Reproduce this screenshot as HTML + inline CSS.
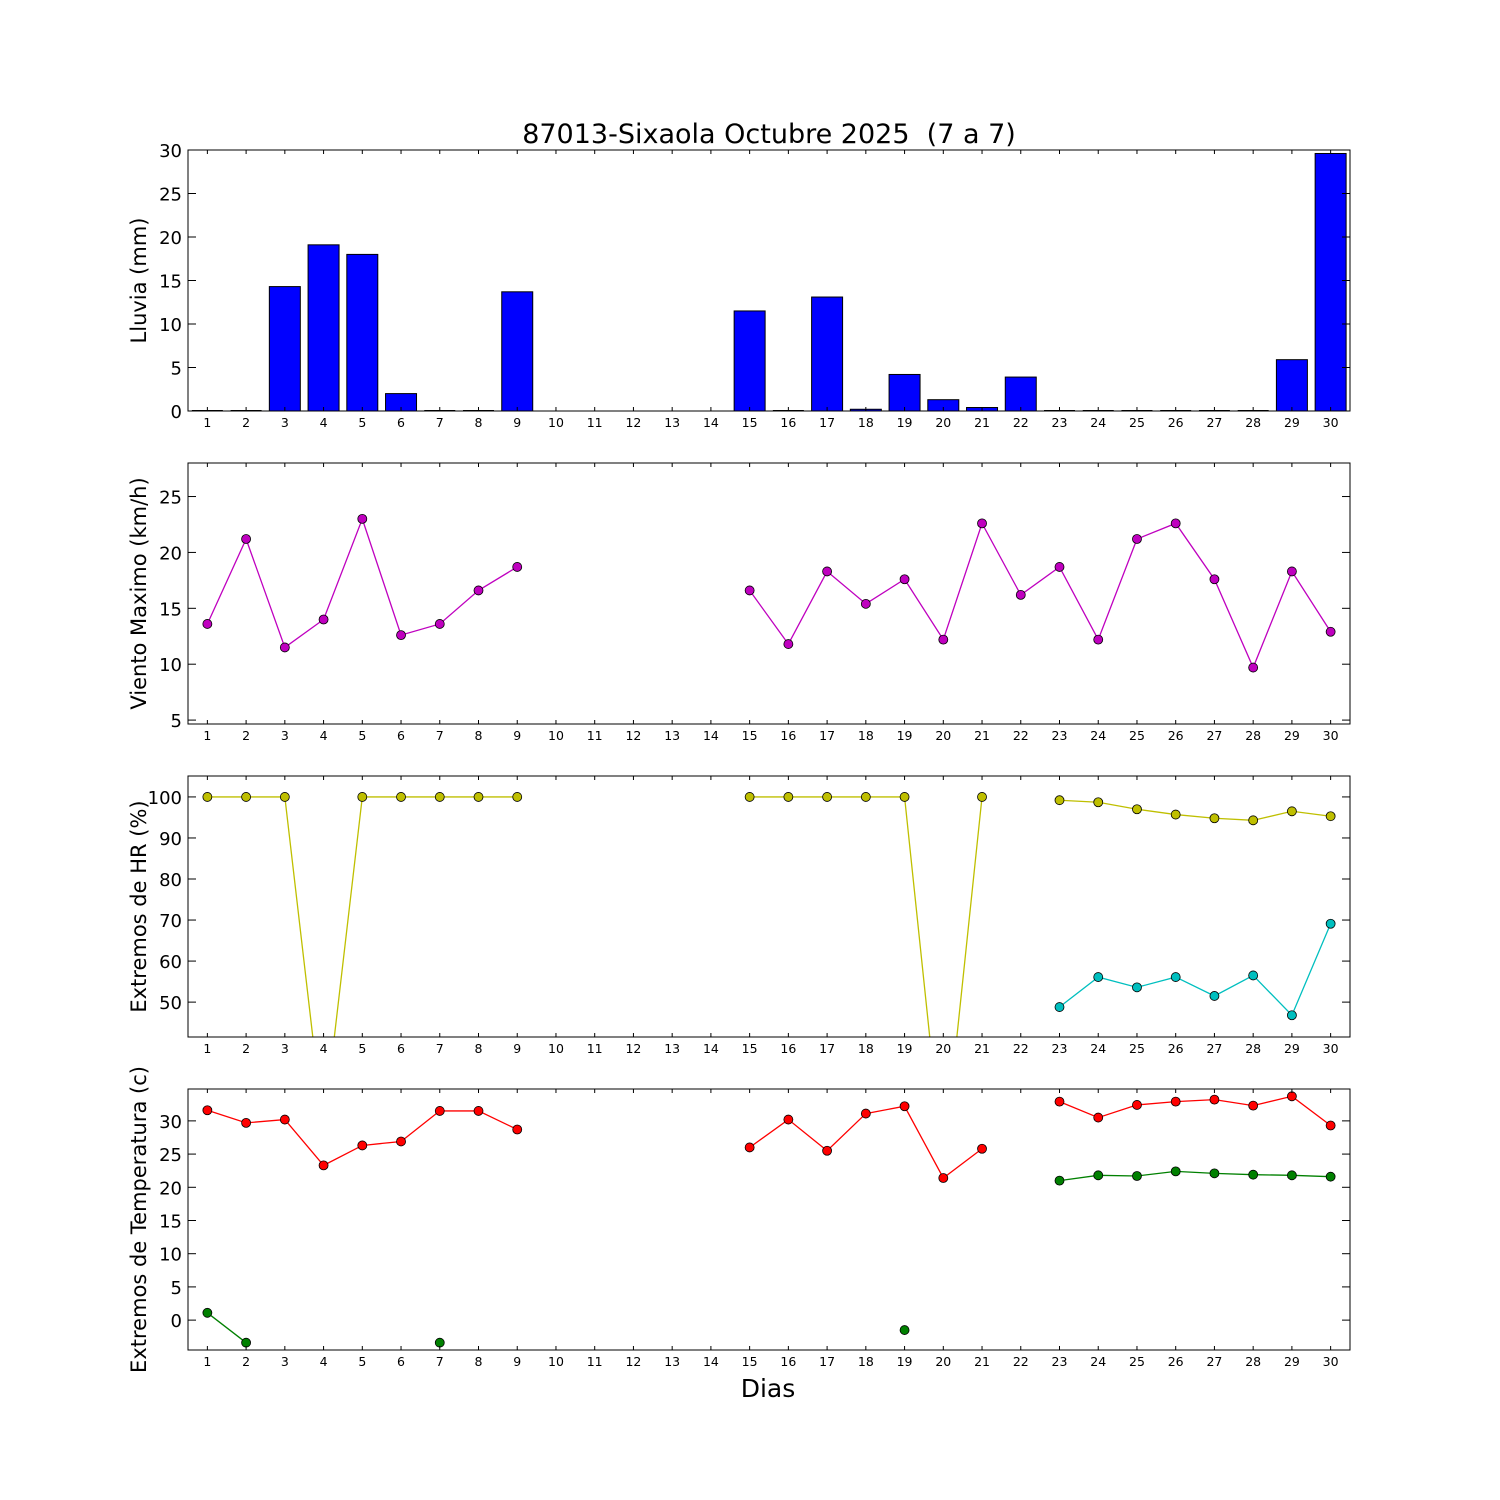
<!DOCTYPE html>
<html><head><meta charset="utf-8"><style>
body{margin:0;background:#fff}
svg{display:block;font-family:"DejaVu Sans","Liberation Sans",sans-serif}
</style></head><body>
<svg id="chart" width="1500" height="1500" viewBox="0 0 1500 1500" xmlns="http://www.w3.org/2000/svg">
<rect width="1500" height="1500" fill="#fff"/>
<text x="769" y="143" font-size="27" text-anchor="middle" style="white-space:pre">87013-Sixaola Octubre 2025  (7 a 7)</text>
<text x="768" y="1397" font-size="25" text-anchor="middle">Dias</text>
</svg>
<script>
const days = Array.from({length:30},(_,i)=>i+1);
const rain = [0,0,14.3,19.1,18,2,0,0,13.7,null,null,null,null,null,11.5,0,13.1,0.2,4.2,1.3,0.4,3.9,0,0,0,0,0,0,5.9,29.6];
const wind = [13.6,21.2,11.5,14,23,12.6,13.6,16.6,18.7,null,null,null,null,null,16.6,11.8,18.3,15.4,17.6,12.2,22.6,16.2,18.7,12.2,21.2,22.6,17.6,9.7,18.3,12.9];
const hrMax = [100,100,100,19,100,100,100,100,100,null,null,null,null,null,100,100,100,100,100,10,100,null,99.2,98.7,97,95.7,94.8,94.3,96.5,95.3];
const hrMin = [null,null,null,null,null,null,null,null,null,null,null,null,null,null,null,null,null,null,null,null,null,null,48.8,56.1,53.6,56.1,51.5,56.5,46.8,69.1];
const tMax = [31.6,29.7,30.2,23.3,26.3,26.9,31.5,31.5,28.7,null,null,null,null,null,26,30.2,25.5,31.1,32.2,21.4,25.8,null,32.9,30.5,32.4,32.9,33.2,32.3,33.7,29.3];
const tMin = [1.1,-3.4,null,null,null,null,-3.4,null,null,null,null,null,null,null,null,null,null,null,-1.5,null,null,null,21,21.8,21.7,22.4,22.1,21.9,21.8,21.6];
const rainTicks=[0,5,10,15,20,25,30], windTicks=[5,10,15,20,25], hrTicks=[50,60,70,80,90,100], tTicks=[0,5,10,15,20,25,30];

const svg=document.getElementById('chart');
const NS='http://www.w3.org/2000/svg';
function mk(tag,attrs,parent){const e=document.createElementNS(NS,tag);for(const k in attrs)e.setAttribute(k,attrs[k]);(parent||svg).appendChild(e);return e;}
const L=188,R=1350;
const xs=d=>L+(d-0.5)*(R-L)/30;

function panel(name,top,bot,ymin,ymax,yticks,label){
  const g=mk('g',{});
  
  
  const ys=v=>bot-(v-ymin)/(ymax-ymin)*(bot-top);
  const clipId='c'+name;
  const cp=mk('clipPath',{id:clipId},g);mk('rect',{x:L,y:top,width:R-L,height:bot-top},cp);
  const plot=mk('g',{'clip-path':'url(#'+clipId+')'},g);
  days.forEach(d=>{const x=xs(d);
    mk('line',{x1:x,x2:x,y1:bot,y2:bot-4,stroke:'#000'},g);
    mk('line',{x1:x,x2:x,y1:top,y2:top+4,stroke:'#000'},g);
    const t=mk('text',{x:x,y:bot+16,'font-size':12.5,'text-anchor':'middle'},g);t.textContent=d;
    
    
  });
  yticks.forEach(v=>{const y=ys(v);
    mk('line',{x1:L,x2:L+8,y1:y,y2:y,stroke:'#000'},g);
    mk('line',{x1:R,x2:R-8,y1:y,y2:y,stroke:'#000'},g);
    const t=mk('text',{x:L-6,y:y+7,'font-size':18,'text-anchor':'end'},g);t.textContent=v;
    
    
  });
  const cy=(top+bot)/2;
  const t=mk('text',{x:0,y:0,'font-size':21,'text-anchor':'middle',transform:`translate(146,${cy}) rotate(-90)`},g);
  t.textContent=label;
  
  
  return {g,plot,ys,frame:()=>mk('rect',{x:L,y:top,width:R-L,height:bot-top,fill:'none',stroke:'#000','stroke-width':1},g)};
}
function series(p,vals,color,name){
  let seg=[];
  const segs=[];
  vals.forEach((v,i)=>{if(v==null){if(seg.length)segs.push(seg);seg=[];}else seg.push([xs(days[i]),p.ys(v)]);});
  if(seg.length)segs.push(seg);
  segs.forEach(s=>{if(s.length>1){const pl=mk('polyline',{points:s.map(a=>a.join(',')).join(' '),fill:'none',stroke:color,'stroke-width':1.3},p.plot);
    
    }});
  vals.forEach((v,i)=>{if(v==null)return;
    const c=mk('circle',{cx:xs(days[i]),cy:p.ys(v),r:4.5,fill:color,stroke:'#000','stroke-width':0.8},p.plot);
    
    
  });
}
const p1=panel('rain-panel',150,411,0,30,rainTicks,'Lluvia (mm)');
rain.forEach((v,i)=>{if(v==null)return;const w=(R-L)/30*0.8;const y=p1.ys(v);
  if(v===0){
    const ln=mk('line',{x1:xs(days[i])-w/2,x2:xs(days[i])+w/2,y1:y-0.5,y2:y-0.5,stroke:'#000','stroke-width':1},p1.plot);
    
    
    return;
  }
  const b=mk('rect',{x:xs(days[i])-w/2,y:y,width:w,height:p1.ys(0)-y,fill:'#0000ff',stroke:'#000','stroke-width':1},p1.plot);
  
  
});
p1.frame();
const p2=panel('wind-panel',463,724,4.65,28,windTicks,'Viento Maximo (km/h)');
series(p2,wind,'#bf00bf','wind');p2.frame();
const p3=panel('humidity-panel',776,1037,41.5,105.1,hrTicks,'Extremos de HR (%)');
series(p3,hrMax,'#bfbf00','hr-max');series(p3,hrMin,'#00bfbf','hr-min');p3.frame();
const p4=panel('temperature-panel',1089,1350,-4.5,34.8,tTicks,'Extremos de Temperatura (c)');
series(p4,tMax,'#ff0000','temp-max');series(p4,tMin,'#008000','temp-min');p4.frame();
</script>
</body></html>
